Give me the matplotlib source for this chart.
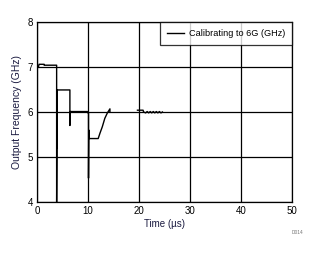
import numpy as np
import matplotlib.pyplot as plt

plt.rcParams['font.family'] = ['Liberation Sans', 'DejaVu Sans']

# time in us, frequency in GHz (nan = gap in the trace)
time_us = [0.0, 0.3, 0.4, 1.4, 1.4, 3.85, 3.85, 3.9, 3.9, 3.95, 3.95, 4.0,
           6.45, 6.45, 6.5, 6.5, 9.9, 10.0, 10.1, 10.1, 10.15, 10.2,
           12.0, 12.35, 12.8, 13.3, 13.8, 14.3, 14.3,
           np.nan,
           19.7, 20.8, 20.9, 21.3, 21.6, 21.9, 22.2, 22.5, 22.8, 23.1,
           23.4, 23.7, 24.0, 24.3, 24.6]
freq_ghz = [7.01, 7.01, 7.06, 7.06, 7.04, 7.04, 3.9, 5.2, 6.49, 5.2, 6.49, 6.49,
            6.49, 5.70, 6.01, 6.01, 6.01, 5.98, 5.98, 4.53, 5.6, 5.41,
            5.41, 5.53, 5.67, 5.86, 5.98, 6.07, 6.0,
            np.nan,
            6.04, 6.04, 6.0, 5.98, 6.01, 5.98, 6.01, 5.98, 6.01, 5.98,
            6.01, 5.98, 6.01, 5.98, 6.0]

x_ticks = [0, 10, 20, 30, 40, 50]
y_ticks = [4, 5, 6, 7, 8]

fig = plt.figure(figsize=(3.21, 2.54), dpi=100)
ax = fig.add_axes([37 / 321, 1 - 202 / 254, 255 / 321, 180 / 254])

ax.plot(time_us, freq_ghz, color='black', lw=1.0, label='Calibrating to 6G (GHz)')

ax.set_xlim(0, 50)
ax.set_ylim(4, 8)
ax.set_xticks(x_ticks)
ax.set_yticks(y_ticks)
ax.grid(True, color='black', lw=0.9)
ax.tick_params(length=0, labelsize=7, pad=3, colors='black')
for s in ax.spines.values():
    s.set_linewidth(0.9)

ax.set_xlabel('Time (µs)', fontsize=7, color='#1a1a40', labelpad=2)
ax.set_ylabel('Output Frequency (GHz)', fontsize=7.5, color='#1a1a40', labelpad=4)

leg = ax.legend(loc='upper right', fontsize=6.6, frameon=True, fancybox=False,
                borderaxespad=0, handlelength=1.9, handletextpad=0.5,
                borderpad=0.75)
leg.get_frame().set_edgecolor('black')
leg.get_frame().set_linewidth(0.9)

fig.text(298 / 321, 1 - 233 / 254, 'D014', fontsize=3.5, color='#777777',
         ha='center', va='center')

fig.savefig('out.png', dpi=100)
